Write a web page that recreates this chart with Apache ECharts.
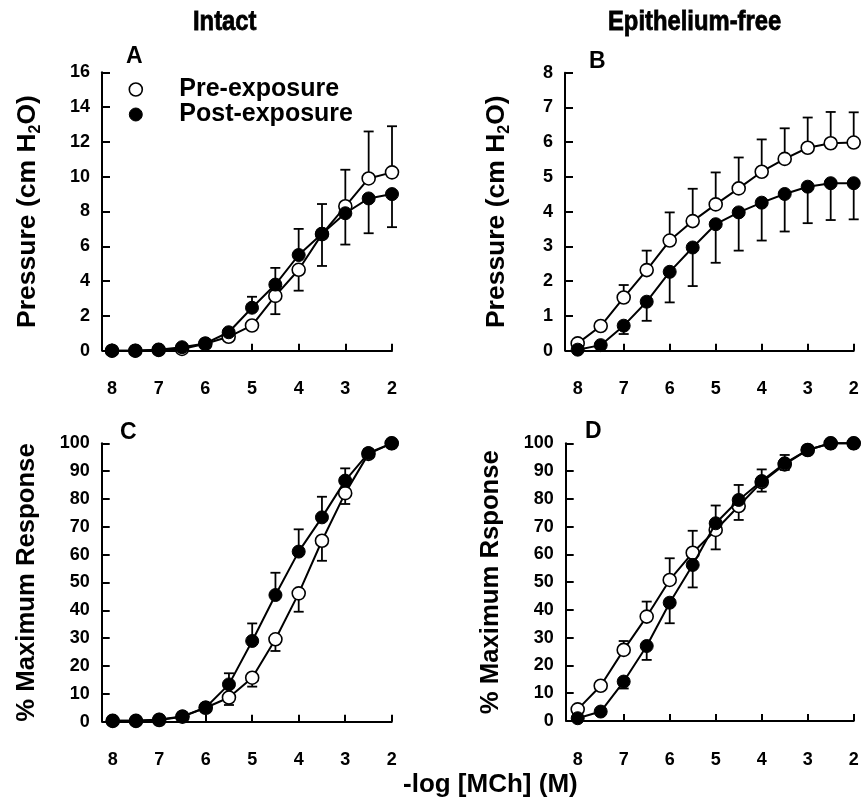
<!DOCTYPE html>
<html><head><meta charset="utf-8">
<script src="https://cdn.jsdelivr.net/npm/echarts@6/dist/echarts.min.js"></script>
<style>html,body{margin:0;padding:0;background:#fff}#c{width:862px;height:801px}</style>
</head><body><div id="c"></div>
<script>
// -log[MCh] doses (x values)
const doses = [8, 7.5, 7, 6.5, 6, 5.5, 5, 4.5, 4, 3.5, 3, 2.5, 2];

// Panel A - Intact, pressure (cm H2O)
const aPre     = [0, 0, 0.05, 0.1, 0.4, 0.8, 1.45, 3.15, 4.65, 6.7, 8.3, 9.9, 10.25];
const aPost    = [0, 0, 0.05, 0.2, 0.42, 1.06, 2.47, 3.8, 5.5, 6.72, 7.9, 8.75, 9.0];
const aPreSem  = [0, 0, 0, 0, 0.05, 0.15, 0.2, 1.05, 1.2, 1.83, 2.1, 2.7, 2.65];
const aPostSem = [0, 0, 0, 0, 0.05, 0.15, 0.63, 0.96, 1.5, 1.71, 1.8, 2.0, 1.9];

// Panel B - Epithelium-free, pressure (cm H2O)
const bPre     = [0.21, 0.71, 1.53, 2.32, 3.17, 3.73, 4.21, 4.67, 5.15, 5.52, 5.84, 5.97, 5.99];
const bPost    = [0.03, 0.16, 0.72, 1.41, 2.27, 2.97, 3.64, 3.98, 4.26, 4.51, 4.72, 4.82, 4.82];
const bPreSem  = [0.05, 0.1, 0.36, 0.56, 0.81, 0.93, 0.92, 0.89, 0.93, 0.88, 0.87, 0.9, 0.87];
const bPostSem = [0.02, 0.05, 0.24, 0.55, 0.88, 1.11, 1.11, 1.1, 1.09, 1.08, 1.05, 1.06, 1.04];

// Panel C - Intact, % maximum response
const cPre     = [0.3, 0.3, 0.6, 1.8, 5.0, 8.7, 15.8, 29.6, 46.1, 65.0, 82.1, 96.2, 100];
const cPost    = [0.3, 0.3, 0.8, 1.9, 5.1, 13.4, 29.0, 45.5, 61.1, 73.4, 86.6, 96.5, 100];
const cPreSem  = [0, 0, 0.2, 0.3, 0.5, 2.7, 3.2, 4.2, 6.6, 7.2, 3.9, 1.5, 0];
const cPostSem = [0, 0, 0.2, 0.3, 0.5, 4.0, 6.3, 8.0, 8.0, 7.4, 4.4, 1.5, 0];

// Panel D - Epithelium-free, % maximum response
const dPre     = [4.2, 12.7, 25.6, 37.6, 50.8, 60.6, 68.8, 77.4, 86.0, 92.4, 97.6, 100, 100];
const dPost    = [1.0, 3.4, 14.2, 27.0, 42.6, 56.2, 71.2, 79.6, 86.4, 92.8, 97.6, 100, 100];
const dPreSem  = [0.5, 1.0, 3.2, 5.4, 7.8, 7.9, 7.0, 5.0, 3.4, 2.0, 0.5, 0, 0];
const dPostSem = [0.3, 0.5, 2.5, 5.0, 7.4, 8.1, 6.4, 5.4, 4.2, 3.0, 0.5, 0, 0];

const panelTitles = ['Intact', 'Epithelium-free'];
const panelLetters = ['A', 'B', 'C', 'D'];
const yNames = ['{b|Pressure (cm H}{s|2}{b|O)}', '{b|Pressure (cm H}{s|2}{b|O)}', '% Maximum Response', '% Maximum Rsponse'];
const xName = '-log [MCh] (M)';
const seriesNames = ['Pre-exposure', 'Post-exposure'];
const yRanges = [[0, 16, 2], [0, 8, 1], [0, 100, 10], [0, 100, 10]];

const FONT = '"Liberation Sans", Arial, sans-serif';
const panels = [
  {pre: aPre, post: aPost, preSem: aPreSem, postSem: aPostSem},
  {pre: bPre, post: bPost, preSem: bPreSem, postSem: bPostSem},
  {pre: cPre, post: cPost, preSem: cPreSem, postSem: cPostSem},
  {pre: dPre, post: dPost, preSem: dPreSem, postSem: dPostSem}
];
const grids = [
  {left: 112, top: 72.3, width: 280, height: 278.4},
  {left: 577.7, top: 72.7, width: 276, height: 278},
  {left: 112.7, top: 443.3, width: 279, height: 278.4},
  {left: 577.7, top: 443.3, width: 276, height: 277.7}
];
const yOffsets = [10, 12.7, 11, 12];
const xOffsets = [11, 11, 11.6, 12];
const yNameGaps = [58, 52, 62, 62];
const yNameSizes = [26.5, 26.5, 25.7, 25.7];

function errItem(params, api) {
  const x = api.value(0), y0 = api.value(1), y1 = api.value(2);
  if (y0 === y1) return null;
  const p0 = api.coord([x, y0]), p1 = api.coord([x, y1]);
  return {type: 'group', children: [
    {type: 'line', shape: {x1: p0[0], y1: p0[1], x2: p1[0], y2: p1[1]}, style: {stroke: '#000', lineWidth: 1.8}},
    {type: 'line', shape: {x1: p1[0] - 5, y1: p1[1], x2: p1[0] + 5, y2: p1[1]}, style: {stroke: '#000', lineWidth: 1.8}}
  ]};
}

const xAxes = [], yAxes = [], series = [];
panels.forEach((p, i) => {
  const ns = yNameSizes[i];
  xAxes.push({
    gridIndex: i, type: 'value', min: 2, max: 8, interval: 1, inverse: true,
    offset: xOffsets[i],
    axisLine: {lineStyle: {color: '#000', width: 2}},
    axisTick: {inside: true, length: 7, lineStyle: {color: '#000', width: 2}},
    axisLabel: {color: '#000', fontFamily: FONT, fontWeight: 'bold', fontSize: 18, margin: 18},
    splitLine: {show: false}
  });
  yAxes.push({
    gridIndex: i, type: 'value', min: yRanges[i][0], max: yRanges[i][1], interval: yRanges[i][2],
    offset: yOffsets[i],
    name: yNames[i], nameLocation: 'middle', nameRotate: 90, nameGap: yNameGaps[i],
    nameTextStyle: {color: '#000', fontFamily: FONT, fontWeight: 'bold', fontSize: ns,
      rich: {b: {color: '#000', fontFamily: FONT, fontWeight: 'bold', fontSize: ns, lineHeight: 32},
             s: {color: '#000', fontFamily: FONT, fontWeight: 'bold', fontSize: 16, lineHeight: 32, verticalAlign: 'bottom'}}},
    axisLine: {show: true, lineStyle: {color: '#000', width: 2}},
    axisTick: {show: true, inside: true, length: 8, lineStyle: {color: '#000', width: 2}},
    axisLabel: {color: '#000', fontFamily: FONT, fontWeight: 'bold', fontSize: 18, margin: 12},
    splitLine: {show: false}
  });
  const preBars = [], postBars = [];
  doses.forEach((x, k) => {
    const preUp = p.pre[k] >= p.post[k];
    preBars.push([x, p.pre[k], p.pre[k] + (preUp ? 1 : -1) * p.preSem[k]]);
    postBars.push([x, p.post[k], p.post[k] + (preUp ? -1 : 1) * p.postSem[k]]);
  });
  series.push({type: 'custom', xAxisIndex: i, yAxisIndex: i, renderItem: errItem, data: preBars, silent: true, z: 1});
  series.push({type: 'custom', xAxisIndex: i, yAxisIndex: i, renderItem: errItem, data: postBars, silent: true, z: 1});
  series.push({
    name: seriesNames[0], type: 'line', xAxisIndex: i, yAxisIndex: i, clip: false,
    data: doses.map((x, k) => [x, p.pre[k]]),
    symbol: 'circle', symbolSize: 13,
    lineStyle: {color: '#000', width: 2},
    itemStyle: {color: '#fff', borderColor: '#000', borderWidth: 1.6},
    z: 3
  });
  series.push({
    name: seriesNames[1], type: 'line', xAxisIndex: i, yAxisIndex: i, clip: false,
    data: doses.map((x, k) => [x, p.post[k]]),
    symbol: 'circle', symbolSize: 13,
    lineStyle: {color: '#000', width: 2},
    itemStyle: {color: '#000', borderColor: '#000', borderWidth: 1},
    z: 4
  });
});

const titleStyle = (size) => ({color: '#000', fontFamily: FONT, fontWeight: 'bold', fontSize: size});
const option = {
  animation: false,
  backgroundColor: '#fff',
  graphic: [
    {type: 'text', x: 193, y: 8, scaleX: 0.85, silent: true,
     style: {text: panelTitles[0], fill: '#000', stroke: '#000', lineWidth: 0.8, font: 'bold 28px "Liberation Sans", Arial, sans-serif', textVerticalAlign: 'top'}},
    {type: 'text', x: 608, y: 8, scaleX: 0.85, silent: true,
     style: {text: panelTitles[1], fill: '#000', stroke: '#000', lineWidth: 0.8, font: 'bold 28px "Liberation Sans", Arial, sans-serif', textVerticalAlign: 'top'}}
  ],
  title: [
    {text: panelLetters[0], left: 126, top: 45, padding: 0, textStyle: titleStyle(23)},
    {text: panelLetters[1], left: 589, top: 50, padding: 0, textStyle: titleStyle(23)},
    {text: panelLetters[2], left: 120, top: 421, padding: 0, textStyle: titleStyle(23)},
    {text: panelLetters[3], left: 585, top: 420, padding: 0, textStyle: titleStyle(23)},
    {text: xName, left: 403, top: 772, padding: 0, textStyle: titleStyle(26)}
  ],
  legend: {
    left: 128.5, top: 77, orient: 'vertical', itemGap: 0, padding: 0,
    itemWidth: 13, itemHeight: 13,
    textStyle: {color: '#000', fontFamily: FONT, fontWeight: 'bold', fontSize: 25, lineHeight: 22, padding: [0, 0, 0, 32]},
    selectedMode: false,
    data: [
      {name: seriesNames[0], icon: 'circle', itemStyle: {color: '#fff', borderColor: '#000', borderWidth: 1.6}},
      {name: seriesNames[1], icon: 'circle', itemStyle: {color: '#000', borderColor: '#000', borderWidth: 1}}
    ]
  },
  grid: grids,
  xAxis: xAxes,
  yAxis: yAxes,
  series: series
};
const chart = echarts.init(document.getElementById('c'), null, {renderer: 'canvas'});
chart.setOption(option);
</script></body></html>
